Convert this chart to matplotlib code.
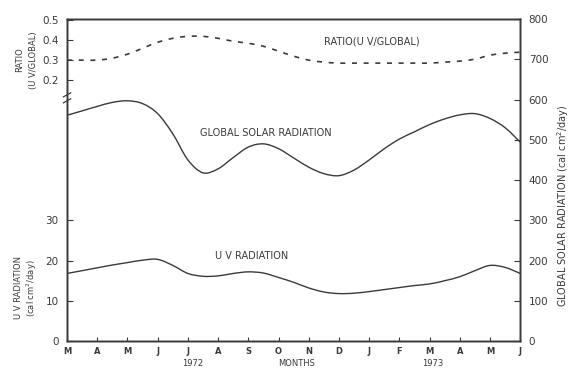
import matplotlib
matplotlib.use('Agg')
import matplotlib.pyplot as plt
from matplotlib.path import Path
from matplotlib.patches import PathPatch
import numpy as np

# month axis, Mar 1972 .. Jun 1973, readings every half month
months = ['M', 'A', 'M', 'J', 'J', 'A', 'S', 'O', 'N', 'D', 'J', 'F', 'M', 'A', 'M', 'J']
t = np.arange(0, 15.5, 0.5)

global_rad = [561, 572, 583, 593, 597, 590, 565, 515, 450, 418, 428, 456, 482, 490, 478, 455,
              432, 416, 411, 425, 450, 478, 502, 520, 538, 552, 562, 565, 553, 530, 494]
uv_rad = [16.8, 17.5, 18.2, 18.9, 19.5, 20.1, 20.3, 18.8, 16.8, 16.1, 16.2, 16.8, 17.2, 16.9, 15.8, 14.6,
          13.2, 12.2, 11.8, 11.9, 12.3, 12.8, 13.3, 13.8, 14.2, 15.0, 16.0, 17.5, 18.8, 18.3, 16.8]
ratio = [0.30, 0.30, 0.30, 0.31, 0.33, 0.36, 0.39, 0.41, 0.42, 0.42, 0.41, 0.395, 0.385, 0.37, 0.345, 0.32,
         0.30, 0.29, 0.285, 0.285, 0.285, 0.285, 0.285, 0.285, 0.285, 0.29, 0.295, 0.305, 0.325, 0.335, 0.34]

uv_ticks = [0, 10, 20, 30]
ratio_ticks = [0.2, 0.3, 0.4, 0.5]
global_ticks = [0, 100, 200, 300, 400, 500, 600, 700, 800]

ink = '#3a3a3a'
plt.rcParams['font.family'] = ['DejaVu Sans']
plt.rcParams['text.color'] = ink


def smooth_path(x, y):
    # bezier segments through the read points (catmull-rom tangents)
    x = np.asarray(x, float)
    y = np.asarray(y, float)
    verts = [(x[0], y[0])]
    codes = [Path.MOVETO]
    n = len(x)
    for i in range(n - 1):
        i0 = max(i - 1, 0)
        i3 = min(i + 2, n - 1)
        c1 = (x[i] + (x[i + 1] - x[i0]) / 6, y[i] + (y[i + 1] - y[i0]) / 6)
        c2 = (x[i + 1] - (x[i3] - x[i]) / 6, y[i + 1] - (y[i3] - y[i]) / 6)
        verts += [c1, c2, (x[i + 1], y[i + 1])]
        codes += [Path.CURVE4] * 3
    return Path(verts, codes)


fig = plt.figure(figsize=(5.73, 3.74), dpi=100)
ax_uv = fig.add_axes([0.117, 0.088, 0.791, 0.861])
ax_g = ax_uv.twinx()
ax_r = ax_uv.twinx()

ax_uv.set_xlim(0, 15)
ax_g.set_ylim(0, 800)
ax_uv.set_ylim(0, 80)
ax_r.set_ylim(-1.116, 0.507)

ax_g.add_patch(PathPatch(smooth_path(t, global_rad), fill=False, edgecolor=ink, lw=1.0))
ax_uv.add_patch(PathPatch(smooth_path(t, uv_rad), fill=False, edgecolor=ink, lw=1.0))
ax_r.add_patch(PathPatch(smooth_path(t, ratio), fill=False, edgecolor=ink, lw=1.2, ls=(0, (3, 4))))

for a in (ax_uv, ax_g, ax_r):
    for s in a.spines.values():
        s.set_color(ink)
        s.set_linewidth(1.0)

ax_uv.set_xticks(range(len(months)))
ax_uv.set_xticklabels(months, fontsize=6, fontweight='bold')
ax_uv.tick_params(axis='x', direction='in', length=3, colors=ink, pad=4)

ax_uv.set_yticks(uv_ticks)
ax_uv.set_yticklabels([str(v) for v in uv_ticks], fontsize=7.5)
ax_uv.tick_params(axis='y', direction='in', length=4, colors=ink, pad=6)

ax_r.yaxis.tick_left()
ax_r.set_yticks(ratio_ticks)
ax_r.set_yticklabels(['0.2', '0.3', '0.4', '0.5'], fontsize=7.5)
ax_r.tick_params(axis='y', direction='in', length=4, colors=ink, pad=6)

ax_g.set_yticks(global_ticks)
ax_g.set_yticklabels([str(v) for v in global_ticks], fontsize=7.5)
ax_g.tick_params(axis='y', direction='in', length=4, colors=ink, pad=6)

# axis break mark on the left axis
ax_r.plot([-0.12, 0.12], [0.115, 0.135], color=ink, lw=0.9, clip_on=False)
ax_r.plot([-0.12, 0.12], [0.085, 0.105], color=ink, lw=0.9, clip_on=False)

# curve captions
ax_r.text(8.5, 0.38, 'RATIO(U V/GLOBAL)', fontsize=7)
ax_g.text(4.4, 510, 'GLOBAL SOLAR RADIATION', fontsize=7)
ax_uv.text(4.9, 20.5, 'U V RADIATION', fontsize=7)

# axis titles
fig.text(0.035, 0.84, 'RATIO', rotation=90, fontsize=6, ha='center', va='center')
fig.text(0.058, 0.84, '(U V/GLOBAL)', rotation=90, fontsize=6, ha='center', va='center')
fig.text(0.032, 0.23, 'U V RADIATION', rotation=90, fontsize=6, ha='center', va='center')
fig.text(0.056, 0.23, '(cal cm$^2$/day)', rotation=90, fontsize=6, ha='center', va='center')
fig.text(0.982, 0.45, 'GLOBAL SOLAR RADIATION (cal cm$^2$/day)', rotation=90, fontsize=7,
         ha='center', va='center')

fig.text(0.337, 0.022, '1972', fontsize=6, ha='center')
fig.text(0.518, 0.022, 'MONTHS', fontsize=6, ha='center')
fig.text(0.756, 0.022, '1973', fontsize=6, ha='center')

fig.savefig('out.png', dpi=100, facecolor='white')
